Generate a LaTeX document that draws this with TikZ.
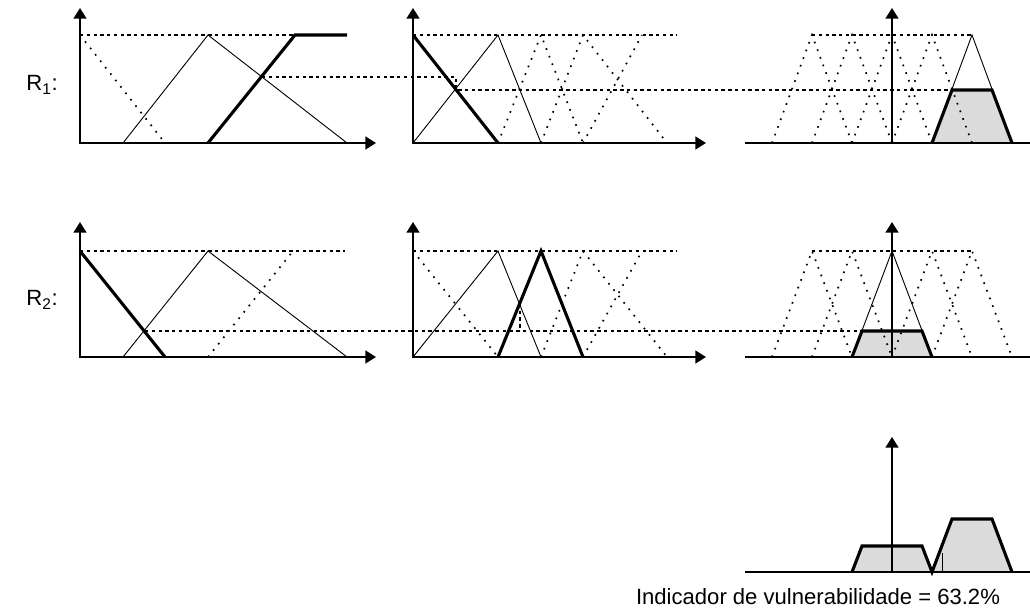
\documentclass[tikz,border=0pt]{standalone}
\usepackage{fontspec}
\setmainfont{Liberation Sans}
\usetikzlibrary{arrows.meta}

\begin{document}
\begin{tikzpicture}[x=0.025cm, y=-0.025cm,
                    eixos/.style={line width=1.5pt, line join=miter, {Triangle[width=9pt,length=7.5pt]}-{Triangle[width=9pt,length=7.5pt]}},
                    eixo/.style={line width=1.5pt, -{Triangle[width=9pt,length=7.5pt]}},
                    base/.style={line width=1.5pt},
                    fino/.style={line width=0.65pt},
                    grosso/.style={line width=2.2pt, line join=miter},
                    pontos/.style={line width=1.2pt, dash pattern=on 1.2pt off 4.6pt},
                    corte/.style={line width=1.1pt, dash pattern=on 2.4pt off 2.4pt},
                    cinza/.style={fill=black!14},
                    rotulo/.style={font=\fontsize{15.7}{19}\selectfont, inner sep=0pt}
                ]
\useasboundingbox (0,0) rectangle (1030,615);

% Regra R1
\node[rotulo] (r1) at (42,85) {R\textsubscript{1}:};
\draw[corte] (80,35) -- (295,35);
\draw[pontos] (80,35) -- (165,143);
\draw[fino] (123,143) -- (208,35) -- (347,143);
\draw[grosso] (208,143) -- (295,35) -- (347,35);
\draw[eixos] (80,8) |- (376,143);

\draw[corte] (413,35) -- (677,35);
\draw[grosso] (413,35) -- (498,143);
\draw[fino] (413,143) -- (498,35) -- (541,143);
\draw[pontos] (498,143) -- (541,35) -- (583,143);
\draw[pontos] (541,143) -- (583,35) -- (667,143);
\draw[pontos] (583,143) -- (642,35);
\draw[eixos] (413,8) |- (706,143);

\fill[cinza] (932,143) -- (952,90) -- (992,90) -- (1012,143) -- cycle;
\draw[corte] (812,35) -- (972,35);
\foreach \p in {812,852,892,932}
    \draw[pontos] (\p-40,143) -- (\p,35) -- (\p+40,143);
\draw[fino] (932,143) -- (972,35) -- (1012,143);
\draw[grosso] (932,143) -- (952,90) -- (992,90) -- (1012,143);
\draw[base] (745,143) -- (1030,143);
\draw[eixo] (892,143) -- (892,8);

% minimo dos antecedentes
\draw[corte] (262,77) -- (456,77) -- (456,90) -- (952,90);

% Regra R2
\node[rotulo] (r2) at (42,300) {R\textsubscript{2}:};
\draw[corte] (80,251) -- (345,251);
\draw[grosso] (80,251) -- (165,357);
\draw[fino] (123,357) -- (208,251) -- (347,357);
\draw[pontos] (208,357) -- (293,251);
\draw[eixos] (80,222) |- (376,357);

\draw[corte] (413,251) -- (677,251);
\draw[pontos] (413,251) -- (498,357);
\draw[fino] (413,357) -- (498,251) -- (541,357);
\draw[grosso] (498,357) -- (541,251) -- (583,357);
\draw[pontos] (541,357) -- (583,251) -- (667,357);
\draw[pontos] (583,357) -- (642,251);
\draw[eixos] (413,222) |- (706,357);

\fill[cinza] (852,357) -- (862,331) -- (922,331) -- (932,357) -- cycle;
\draw[corte] (812,251) -- (972,251);
\foreach \p in {812,852,932,972}
    \draw[pontos] (\p-40,357) -- (\p,251) -- (\p+40,357);
\draw[fino] (852,357) -- (892,251) -- (932,357);
\draw[grosso] (852,357) -- (862,331) -- (922,331) -- (932,357);
\draw[base] (745,357) -- (1030,357);
\draw[eixo] (892,357) -- (892,222);

\draw[corte] (145,331) -- (862,331);
\draw[corte] (520,304) -- (520,331);

% Agregacao
\fill[cinza] (852,572) -- (862,546) -- (922,546) -- (932,572) -- cycle;
\fill[cinza] (932,572) -- (952,519) -- (992,519) -- (1012,572) -- cycle;
\draw[grosso] (852,572) -- (862,546) -- (922,546) -- (932,572) -- (952,519) -- (992,519) -- (1012,572);
\draw[fino] (942,572) -- (942,553);
\draw[base] (745,572) -- (1030,572);
\draw[eixo] (892,572) -- (892,437);
\node[rotulo] (indicador) at (818,597) {Indicador de vulnerabilidade = 63.2\%};
\end{tikzpicture}
\end{document}
